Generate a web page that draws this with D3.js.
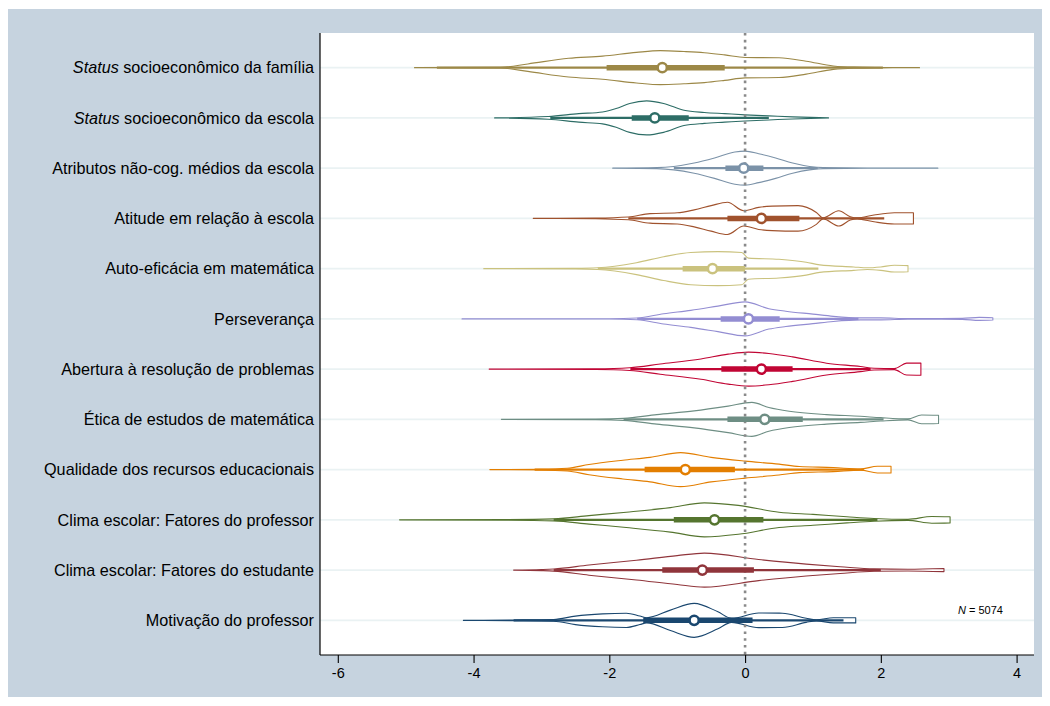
<!DOCTYPE html>
<html><head><meta charset="utf-8">
<script src="https://cdn.jsdelivr.net/npm/d3@7"></script>
<style>body{margin:0;background:#fff}svg{display:block}text{font-family:"Liberation Sans",Arial,sans-serif}</style>
</head><body>
<svg id="c" width="1050" height="706"></svg>
<script>
// ---------- DATA ----------
const categories = [
  "|Status| socioeconômico da família",
  "|Status| socioeconômico da escola",
  "Atributos não-cog. médios da escola",
  "Atitude em relação à escola",
  "Auto-eficácia em matemática",
  "Perseverança",
  "Abertura à resolução de problemas",
  "Ética de estudos de matemática",
  "Qualidade dos recursos educacionais",
  "Clima escolar: Fatores do professor",
  "Clima escolar: Fatores do estudante",
  "Motivação do professor"
];
const colors = ["#9c8847","#2d6d66","#7b92a8","#a0522d","#cac27e","#938dd2",
                "#c10534","#6e8e84","#e37e00","#55752f","#90353b","#1a476f"];
const medians = [-1.22,-1.33,-0.02, 0.24,-0.48, 0.05, 0.24, 0.29,-0.88,-0.45,-0.63,-0.75];
const q1      = [-2.04,-1.67,-0.29,-0.26,-0.92,-0.36,-0.35,-0.26,-1.48,-1.05,-1.22,-1.50];
const q3      = [-0.30,-0.83, 0.27, 0.80, 0.00, 0.51, 0.70, 0.85,-0.15, 0.27, 0.13, 0.11];
const whiskLo = [-4.54,-2.87,-1.05,-1.72,-2.17,-1.59,-1.69,-1.79,-3.10,-2.82,-2.82,-3.41];
const whiskHi = [ 2.03, 0.35, 1.07, 2.05, 1.08, 1.67, 1.85, 2.04, 1.75, 1.95, 2.00, 1.45];
const xTicks = [-6,-4,-2,0,2,4];
const nLabel = "5074";

// relative density [value, density]
const densFamilia = [[-4.87,0],[-3.6,0.02],[-3.2,0.22],[-2.6,0.55],[-2.1,0.68],[-1.6,0.9],[-1.25,1],[-0.9,0.95],[-0.6,0.88],[-0.3,0.75],[0,0.6],[0.5,0.58],[0.9,0.38],[1.3,0.1],[1.6,0.03],[2.0,0.01],[2.57,0]];
const densEscola = [[-3.69,0],[-2.9,0.08],[-2.45,0.25],[-2.1,0.35],[-1.9,0.55],[-1.7,0.85],[-1.45,1],[-1.2,0.85],[-0.9,0.45],[-0.6,0.32],[-0.3,0.25],[0,0.18],[0.35,0.12],[0.7,0.06],[1.23,0]];
const densAtributos = [[-1.95,0],[-1.3,0.03],[-1.05,0.1],[-0.75,0.3],[-0.45,0.6],[-0.15,0.95],[0,1],[0.2,0.85],[0.45,0.6],[0.7,0.3],[0.95,0.1],[1.15,0.03],[1.8,0.01],[2.84,0]];
const densAtitude = [[-3.12,0],[-2.2,0.02],[-1.72,0.08],[-1.4,0.28],[-1.0,0.33],[-0.75,0.5],[-0.5,0.75],[-0.26,0.95],[-0.02,0.45],[0.2,0.65],[0.4,0.72],[0.78,0.75],[1.05,0.35],[1.15,0.03],[1.38,0.45],[1.55,0.1],[1.65,0.03],[1.9,0.2],[2.2,0.33],[2.48,0.33]];
const densAutoef = [[-3.85,0],[-2.5,0.02],[-2.17,0.05],[-1.6,0.35],[-1.2,0.7],[-0.8,0.95],[-0.4,1],[-0.05,0.95],[0.05,0.62],[0.5,0.55],[0.9,0.38],[1.1,0.22],[1.6,0.1],[1.8,0.05],[2.0,0.1],[2.2,0.2],[2.4,0.18]];
const densPersev = [[-4.17,0],[-2.0,0.01],[-1.59,0.05],[-1.2,0.3],[-0.8,0.5],[-0.4,0.75],[0,1],[0.35,0.6],[0.6,0.45],[1.0,0.28],[1.3,0.15],[1.7,0.06],[2.0,0.06],[2.4,0.02],[3.2,0.03],[3.45,0.09],[3.65,0.07]];
const densAbertura = [[-3.77,0],[-2.2,0.02],[-1.7,0.08],[-1.25,0.3],[-0.65,0.6],[-0.25,0.88],[0.05,1],[0.35,0.92],[0.7,0.72],[1.2,0.35],[1.7,0.15],[1.9,0.05],[2.2,0.03],[2.38,0.35],[2.59,0.36]];
const densEtica = [[-3.59,0],[-2.2,0.02],[-1.79,0.06],[-1.3,0.28],[-0.75,0.5],[-0.25,0.78],[0.1,1],[0.35,0.7],[0.65,0.48],[1.2,0.28],[1.7,0.18],[2.0,0.1],[2.4,0.03],[2.6,0.26],[2.85,0.24]];
const densQualidade = [[-3.76,0],[-3.0,0.02],[-2.62,0.08],[-2.3,0.3],[-1.8,0.55],[-1.4,0.72],[-0.95,1],[-0.5,0.72],[0,0.5],[0.5,0.32],[0.8,0.18],[1.3,0.12],[1.7,0.03],[1.95,0.2],[2.15,0.2]];
const densClimaProf = [[-5.09,0],[-3.5,0.02],[-2.82,0.06],[-2.3,0.25],[-1.75,0.45],[-1.1,0.72],[-0.6,1],[-0.1,0.85],[0.5,0.45],[1.0,0.32],[1.5,0.18],[1.9,0.08],[2.4,0.03],[2.75,0.2],[3.02,0.18]];
const densClimaEst = [[-3.41,0],[-3.0,0.03],[-2.82,0.06],[-2.3,0.3],[-1.6,0.58],[-1.0,0.85],[-0.6,1],[0.2,0.62],[0.9,0.35],[1.4,0.2],[1.9,0.07],[2.4,0.05],[2.93,0.09]];
const densMotivacao = [[-4.15,0],[-3.41,0.02],[-2.82,0.05],[-2.5,0.25],[-2.1,0.38],[-1.75,0.42],[-1.55,0.25],[-1.45,0.15],[-1.1,0.6],[-0.75,1],[-0.4,0.5],[-0.2,0.12],[0.2,0.43],[0.55,0.42],[0.9,0.12],[1.05,0.03],[1.3,0.15],[1.63,0.15]];
const densities = [densFamilia,densEscola,densAtributos,densAtitude,densAutoef,densPersev,
                   densAbertura,densEtica,densQualidade,densClimaProf,densClimaEst,densMotivacao];

// ---------- LAYOUT ----------
const svg = d3.select("#c");
const L = 320, R = 1034, T = 33, B = 655;

svg.append("rect").attr("x",8).attr("y",9).attr("width",1034).attr("height",688).attr("fill","#c6d3df");
svg.append("rect").attr("x",L).attr("y",T).attr("width",R-L).attr("height",B-T).attr("fill","#fff");

const x = d3.scaleLinear().domain([-6,4]).range([337.8, 1016.6]);
const y = d3.scalePoint().domain(d3.range(categories.length)).range([T,B]).padding(0.69);
const w = d3.scaleLinear().domain([0,1]).range([0,17]);

// grid
svg.append("g").selectAll("line").data(categories).join("line")
  .attr("x1",L).attr("x2",R).attr("y1",(d,i)=>y(i)).attr("y2",(d,i)=>y(i))
  .attr("stroke","#eaf2f3").attr("stroke-width",1.6);

// violins
const g = svg.append("g");
densities.forEach((dens,i)=>{
  const area = d3.area().curve(d3.curveMonotoneX)
    .x(d=>x(d[0])).y0(d=>y(i)+w(d[1])).y1(d=>y(i)-w(d[1]));
  g.append("path").attr("d",area(dens)).attr("fill","#fff")
    .attr("stroke",colors[i]).attr("stroke-width",1.1).attr("stroke-linejoin","round");
});

// zero line
svg.append("line").attr("x1",x(0)).attr("x2",x(0)).attr("y1",T).attr("y2",B)
  .attr("stroke","#8a8a8a").attr("stroke-width",2.6).attr("stroke-dasharray","2.6,4.2");

// whiskers, boxes, medians
const gb = svg.append("g");
categories.forEach((c,i)=>{
  gb.append("line").attr("x1",x(whiskLo[i])).attr("x2",x(whiskHi[i])).attr("y1",y(i)).attr("y2",y(i))
    .attr("stroke",colors[i]).attr("stroke-width",2.2);
  gb.append("line").attr("x1",x(q1[i])).attr("x2",x(q3[i])).attr("y1",y(i)).attr("y2",y(i))
    .attr("stroke",colors[i]).attr("stroke-width",5.5);
  gb.append("circle").attr("cx",x(medians[i])).attr("cy",y(i)).attr("r",4.6)
    .attr("fill","#fff").attr("stroke",colors[i]).attr("stroke-width",2.6);
});

// axes
const xAxis = d3.axisBottom(x).tickValues(xTicks).tickSize(8).tickPadding(5).tickFormat(d3.format("d"));
const ax = svg.append("g").attr("transform",`translate(0,${B})`).call(xAxis);
ax.select(".domain").attr("d",`M${L},0H${R}`).attr("stroke","#000").attr("stroke-width",1.2);
ax.selectAll(".tick line").attr("stroke","#000").attr("stroke-width",1.1);
ax.selectAll(".tick text").attr("font-size",14.5).attr("fill","#000").attr("font-family","Liberation Sans, Arial, sans-serif").text(d=>d<0?"-"+Math.abs(d):d);

svg.append("line").attr("x1",L).attr("x2",L).attr("y1",T).attr("y2",B).attr("stroke","#000").attr("stroke-width",1.2);

// category labels
const lab = svg.append("g");
categories.forEach((c,i)=>{
  const t = lab.append("text").attr("x",314).attr("y",y(i)).attr("dy","0.35em")
    .attr("text-anchor","end").attr("font-size",16.2).attr("fill","#000");
  c.split("|").forEach((part,k)=>{
    if(part==="") return;
    t.append("tspan").attr("font-style",k%2===1?"italic":"normal").text(part);
  });
});

// N label
const nt = svg.append("text").attr("x",958).attr("y",614).attr("font-size",11).attr("fill","#000");
nt.append("tspan").attr("font-style","italic").text("N");
nt.append("tspan").text(" = " + nLabel);
</script>
</body></html>
